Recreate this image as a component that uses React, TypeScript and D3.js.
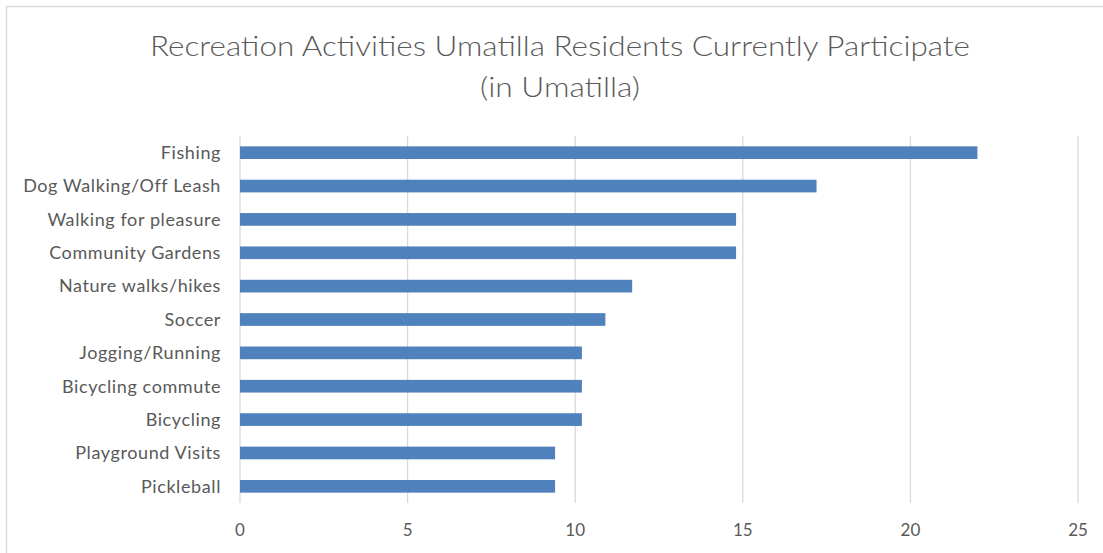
import React from 'react';
import * as d3 from 'd3';

const titleLines = ['Recreation Activities Umatilla Residents Currently Participate', '(in Umatilla)'];

const activities = [
  'Fishing',
  'Dog Walking/Off Leash',
  'Walking for pleasure',
  'Community Gardens',
  'Nature walks/hikes',
  'Soccer',
  'Jogging/Running',
  'Bicycling commute',
  'Bicycling',
  'Playground Visits',
  'Pickleball',
];

const participation = [22, 17.2, 14.8, 14.8, 11.7, 10.9, 10.2, 10.2, 10.2, 9.4, 9.4];

const xTicks = [0, 5, 10, 15, 20, 25];

const W = 1103;
const H = 553;
const plot = { left: 240, right: 1078, top: 136, bottom: 503 };
const font = 'Lato, "Open Sans", "Noto Sans", sans-serif';
const textColor = '#595959';

export default function App() {
  const x = d3.scaleLinear().domain([0, 25]).range([plot.left, plot.right]);
  const y = d3.scaleBand<string>().domain(activities).range([plot.top, plot.bottom]).paddingInner(0.62).paddingOuter(0.31);

  return (
    <div style={{ position: 'absolute', left: 0, top: 0 }}>
      <svg width={W} height={H} style={{ display: 'block', background: '#fff' }}>
        {/* chart frame, only top and left edges show */}
        <line x1={6.5} x2={W} y1={6.5} y2={6.5} stroke="#d9d9d9" strokeWidth={1.5} />
        <line x1={6.5} x2={6.5} y1={6.5} y2={H} stroke="#d9d9d9" strokeWidth={1.5} />

        <text x={560} y={56} textAnchor="middle" fontFamily={font} fontWeight={300} fontSize={28} fill={textColor}
          textLength={820} lengthAdjust="spacingAndGlyphs">{titleLines[0]}</text>
        <text x={560} y={97} textAnchor="middle" fontFamily={font} fontWeight={300} fontSize={28} fill={textColor}
          textLength={160} lengthAdjust="spacingAndGlyphs">{titleLines[1]}</text>

        {xTicks.map(t => (
          <g key={t}>
            <line x1={x(t)} x2={x(t)} y1={plot.top} y2={plot.bottom} stroke="#d9d9d9" strokeWidth={1.3} />
            <text x={x(t)} y={536} textAnchor="middle" fontFamily={font} fontSize={17} fill={textColor}>{t}</text>
          </g>
        ))}

        {activities.map((a, i) => (
          <g key={a}>
            <rect x={x(0)} y={y(a)} width={x(participation[i]) - x(0)} height={y.bandwidth()} fill="#4f81bd" />
            <text x={221} y={(y(a) ?? 0) + y.bandwidth() / 2} dy="0.35em" textAnchor="end"
              fontFamily={font} fontSize={18} letterSpacing={0.6} fill={textColor}>{a}</text>
          </g>
        ))}
      </svg>
    </div>
  );
}
